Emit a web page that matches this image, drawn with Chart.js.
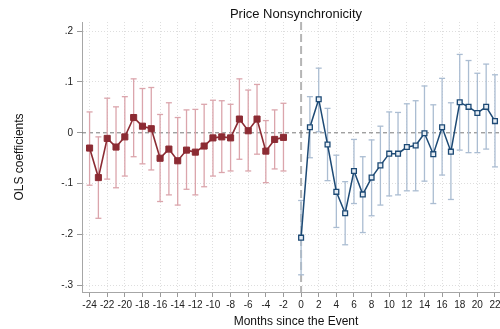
<!DOCTYPE html>
<html lang="en">
<head>
    <meta charset="UTF-8">
    <title>Price Nonsynchronicity</title>
    <style>
        html, body {
            margin: 0;
            padding: 0;
            background-color: #fff;
        }
        #wrap {
            width: 500px;
            height: 329px;
            position: relative;
        }
    </style>
</head>
<body>
    <div id="wrap">
        <canvas id="eventChart" width="500" height="329"></canvas>
    </div>

    <script src="https://cdn.jsdelivr.net/npm/chart.js"></script>
    <script>
        // Months before the event (month -1 is the omitted reference)
        const preMonths = [-24, -23, -22, -21, -20, -19, -18, -17, -16, -15, -14, -13,
                           -12, -11, -10, -9, -8, -7, -6, -5, -4, -3, -2];
        const preCoef = [-0.030, -0.088, -0.011, -0.028, -0.008, 0.030, 0.013, 0.008,
                         -0.050, -0.032, -0.055, -0.034, -0.038, -0.026, -0.010, -0.008,
                         -0.010, 0.027, 0.004, 0.027, -0.036, -0.013, -0.009];
        const preLow = [-0.103, -0.168, -0.091, -0.108, -0.085, -0.047, -0.061, -0.073,
                        -0.135, -0.122, -0.142, -0.111, -0.122, -0.106, -0.085, -0.078,
                        -0.075, -0.052, -0.075, -0.042, -0.098, -0.071, -0.075];
        const preHigh = [0.041, -0.008, 0.068, 0.051, 0.071, 0.106, 0.087, 0.089,
                         0.036, 0.059, 0.030, 0.045, 0.046, 0.056, 0.064, 0.063,
                         0.056, 0.106, 0.084, 0.095, 0.024, 0.045, 0.058];

        // Months after the event
        const postMonths = [0, 1, 2, 3, 4, 5, 6, 7, 8, 9, 10, 11, 12, 13, 14, 15, 16,
                            17, 18, 19, 20, 21, 22];
        const postCoef = [-0.206, 0.011, 0.066, -0.023, -0.116, -0.158, -0.075, -0.121,
                          -0.088, -0.064, -0.041, -0.041, -0.028, -0.025, -0.001, -0.042,
                          0.011, -0.037, 0.060, 0.051, 0.039, 0.051, 0.023];
        const postLow = [-0.279, -0.049, 0.002, -0.094, -0.186, -0.220, -0.139, -0.196,
                         -0.163, -0.142, -0.124, -0.122, -0.114, -0.114, -0.095, -0.139,
                         -0.083, -0.131, -0.034, -0.039, -0.039, -0.032, -0.067];
        const postHigh = [-0.133, 0.071, 0.127, 0.048, -0.044, -0.096, -0.013, -0.047,
                          -0.014, 0.013, 0.041, 0.040, 0.057, 0.063, 0.092, 0.055,
                          0.107, 0.059, 0.154, 0.142, 0.117, 0.135, 0.114];

        // Tick labels
        const xTickValues = [-24, -22, -20, -18, -16, -14, -12, -10, -8, -6, -4, -2,
                             0, 2, 4, 6, 8, 10, 12, 14, 16, 18, 20, 22];
        const yTickValues = [-0.3, -0.2, -0.1, 0, 0.1, 0.2];

        const FONT = "'Liberation Sans', Arial, Helvetica, sans-serif";
        const RED = "#8c2b33";
        const RED_CI = "#dba5ac";
        const BLUE = "#1d4a75";
        const BLUE_CI = "#abbdd2";

        function pairs(xs, ys) {
            return xs.map((x, i) => ({ x: x, y: ys[i] }));
        }
        // low, high, then a gap so each interval is its own segment
        function capped(xs, lo, hi) {
            const out = [];
            xs.forEach((x, i) => {
                out.push({ x: x, y: lo[i] }, { x: x, y: hi[i] }, { x: x, y: null });
            });
            return out;
        }
        function formatY(v) {
            if (Math.abs(v) < 1e-9) return "0";
            const s = Math.abs(v).toFixed(1).replace(/^0/, "");
            return (v < 0 ? "-" : "") + s;
        }

        // Reference lines at 0 and the title texts
        const refLines = {
            id: "refLines",
            beforeDatasetsDraw(chart) {
                const { ctx, chartArea, scales } = chart;
                const y0 = scales.y.getPixelForValue(0);
                const x0 = scales.x.getPixelForValue(0);
                ctx.save();
                ctx.strokeStyle = "#b5b5b5";
                ctx.lineWidth = 2;
                ctx.setLineDash([8, 4]);
                ctx.beginPath();
                ctx.moveTo(x0, chartArea.top);
                ctx.lineTo(x0, chartArea.bottom);
                ctx.stroke();
                ctx.strokeStyle = "#787878";
                ctx.lineWidth = 1;
                ctx.setLineDash([4, 3]);
                ctx.beginPath();
                ctx.moveTo(chartArea.left, y0);
                ctx.lineTo(chartArea.right, y0);
                ctx.stroke();
                ctx.restore();
            },
            afterDraw(chart) {
                const ctx = chart.ctx;
                ctx.save();
                ctx.fillStyle = "#111";
                ctx.textAlign = "center";
                ctx.textBaseline = "alphabetic";
                ctx.font = "13px " + FONT;
                ctx.fillText("Price Nonsynchronicity", 296, 18);
                ctx.font = "12px " + FONT;
                ctx.fillText("Months since the Event", 296, 325);
                ctx.restore();
            }
        };

        function ciDataset(xs, lo, hi, color) {
            return {
                data: capped(xs, lo, hi),
                borderColor: color,
                borderWidth: 1.3,
                spanGaps: false,
                pointStyle: "line",
                pointRadius: 3,
                pointBorderWidth: 1.3,
                pointBorderColor: color,
                order: 4
            };
        }

        const ctx = document.getElementById("eventChart").getContext("2d");
        const chart = new Chart(ctx, {
            type: "line",
            data: {
                datasets: [
                    ciDataset(preMonths, preLow, preHigh, RED_CI),
                    ciDataset(postMonths, postLow, postHigh, BLUE_CI),
                    {
                        label: "Before",
                        data: pairs(preMonths, preCoef),
                        borderColor: RED,
                        borderWidth: 1.6,
                        pointStyle: "rect",
                        pointRadius: 4.3,
                        pointBackgroundColor: RED,
                        pointBorderColor: RED,
                        pointBorderWidth: 1,
                        tension: 0,
                        order: 1
                    },
                    {
                        label: "After",
                        data: pairs(postMonths, postCoef),
                        borderColor: BLUE,
                        borderWidth: 1.5,
                        pointStyle: "rect",
                        pointRadius: 3.4,
                        pointBackgroundColor: "#e6edf4",
                        pointBorderColor: BLUE,
                        pointBorderWidth: 1.3,
                        tension: 0,
                        order: 1
                    }
                ]
            },
            options: {
                responsive: false,
                animation: false,
                events: [],
                layout: {
                    autoPadding: false,
                    padding: { top: 22, right: 0, bottom: 0, left: 0 }
                },
                plugins: {
                    legend: { display: false },
                    tooltip: { enabled: false },
                    title: { display: false }
                },
                scales: {
                    x: {
                        type: "linear",
                        offset: false,
                        min: -24.86,
                        max: 22.57,
                        afterBuildTicks: (scale) => {
                            scale.ticks = xTickValues.map(v => ({ value: v }));
                        },
                        afterFit: (scale) => {
                            scale.height = 37;
                            scale.paddingLeft = 0;
                            scale.paddingRight = 0;
                        },
                        ticks: {
                            autoSkip: false,
                            maxRotation: 0,
                            padding: 2,
                            color: "#222",
                            font: { family: FONT, size: 10 },
                            callback: (v) => String(v)
                        },
                        grid: {
                            color: (c) => (c.tick && c.tick.value === 0) ? "rgba(0,0,0,0)" : "#dedede",
                            lineWidth: 1,
                            tickLength: 5,
                            tickColor: "#9a9a9a",
                            tickBorderDash: []
                        },
                        border: {
                            color: "#a6a6a6",
                            width: 1,
                            dash: [1, 2]
                        },
                        title: { display: false }
                    },
                    y: {
                        type: "linear",
                        min: -0.3128,
                        max: 0.2177,
                        afterBuildTicks: (scale) => {
                            scale.ticks = yTickValues.map(v => ({ value: v }));
                        },
                        afterFit: (scale) => {
                            scale.width = 82;
                            scale.paddingTop = 0;
                            scale.paddingBottom = 0;
                        },
                        ticks: {
                            padding: 4,
                            color: "#222",
                            font: { family: FONT, size: 10 },
                            callback: (v) => formatY(v)
                        },
                        grid: {
                            color: (c) => (c.tick && Math.abs(c.tick.value) < 1e-9) ? "rgba(0,0,0,0)" : "#dedede",
                            lineWidth: 1,
                            tickLength: 5,
                            tickColor: "#9a9a9a",
                            tickBorderDash: []
                        },
                        border: {
                            color: "#a6a6a6",
                            width: 1,
                            dash: [1, 2]
                        },
                        title: {
                            display: true,
                            text: "OLS coefficients",
                            color: "#111",
                            font: { family: FONT, size: 12 },
                            padding: { top: 12, bottom: 0 }
                        }
                    }
                }
            },
            plugins: [refLines]
        });
    </script>
</body>
</html>
